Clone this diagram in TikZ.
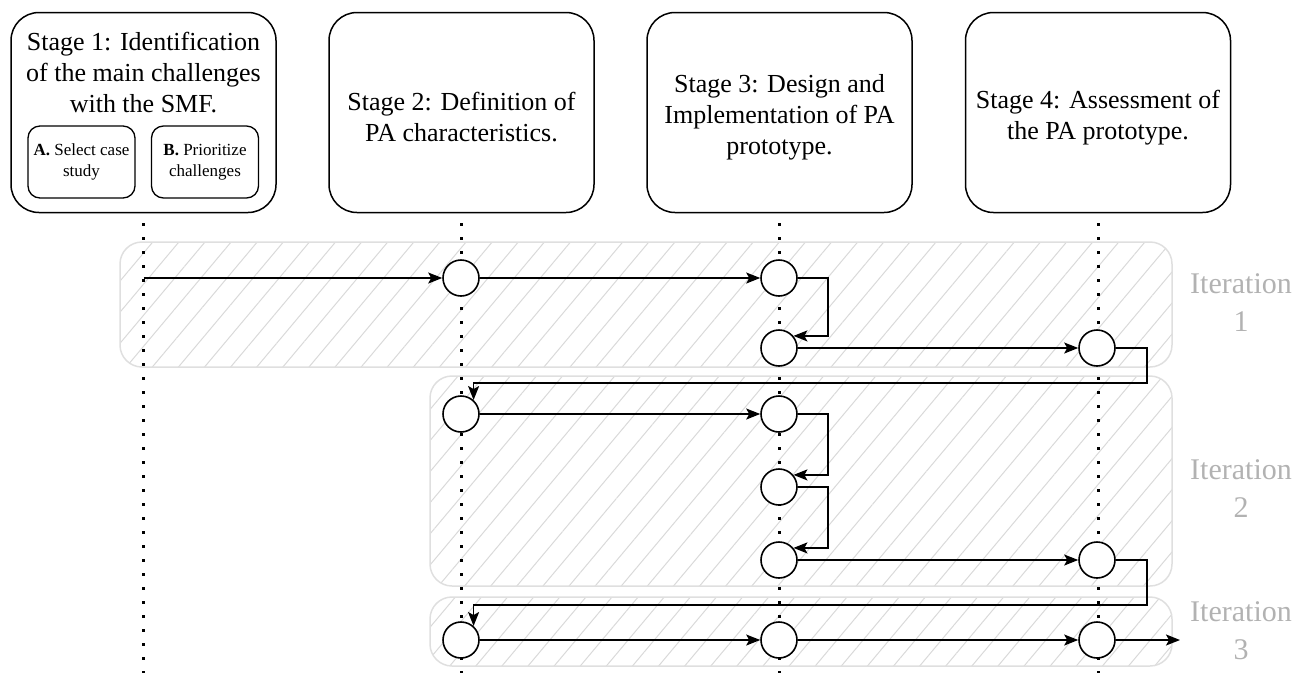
\documentclass[tikz,border=0pt]{standalone}
\usepackage{fontspec}
\setmainfont{Liberation Serif}
\usetikzlibrary{arrows.meta, patterns.meta}

\tikzset{
  stagebox/.style={draw, line width=1.5pt, rounded corners=28pt,
    minimum width=265pt, minimum height=200pt},
  stagetext/.style={align=center, inner sep=0pt, font=\fontsize{26}{31}\selectfont},
  subbox/.style={draw, line width=1.3pt, rounded corners=12pt, align=center,
    minimum width=107pt, minimum height=72pt, font=\fontsize{17}{21}\selectfont},
  iterbox/.style={draw=gray!25, line width=1.5pt, rounded corners=22pt,
    pattern={Lines[angle=50, distance=20pt, line width=1pt]}, pattern color=gray!30},
  iterlabel/.style={text=gray!60, align=center, font=\fontsize{30}{38}\selectfont},
  timeline/.style={line width=3pt, dash pattern=on 3pt off 11pt},
  flow/.style={line width=1.6pt, -{Stealth[length=14pt, width=11pt, inset=3pt]}},
  event/.style={circle, draw, fill=white, line width=1.6pt, minimum size=36pt, inner sep=0pt}
}

\begin{document}
\begin{tikzpicture}[x=1pt, y=-1pt]
    \useasboundingbox (0,0) rectangle (1309,673);

    % Stage boxes along the top
    \node[stagebox] (s1) at (143.5,112.5) {};
    \node[stagebox] (s2) at (461.5,112.5) {};
    \node[stagebox] (s3) at (779.5,112.5) {};
    \node[stagebox] (s4) at (1098,112.5) {};

    % Stage texts
    \node[stagetext] (s1text) at (143.5,73)
        {Stage 1: Identification\\of the main challenges\\with the SMF.};
    \node[subbox] (subA) at (81.5,162) {\textbf{A.} Select case\\study};
    \node[subbox] (subB) at (205,162) {\textbf{B.} Prioritize\\challenges};
    \node[stagetext] (s2text) at ([yshift=-5pt]s2.center) {Stage 2: Definition of\\PA characteristics.};
    \node[stagetext] (s3text) at ([yshift=-5pt]s3.center) {Stage 3: Design and\\Implementation of PA\\prototype.};
    \node[stagetext] (s4text) at ([yshift=-5pt]s4.center) {Stage 4: Assessment of\\the PA prototype.};

    % Hatched iteration bands
    \draw[iterbox] (120,242) rectangle (1172,367);
    \draw[iterbox] (430,376) rectangle (1172,586);
    \draw[iterbox] (430,597) rectangle (1172,666);

    % Iteration labels on the right
    \node[iterlabel] (it1) at (1241,303) {Iteration\\1};
    \node[iterlabel] (it2) at (1241,489) {Iteration\\2};
    \node[iterlabel] (it3) at (1241,631) {Iteration\\3};

    % Dotted time lines below each stage
    \foreach \s in {s1, s2, s3, s4}
        \draw[timeline] (\s.south) ++(0,10) -- (\s.south |- 0,673);

    % Events, iteration 1
    \node[event] (i1s2) at (461,278) {};
    \node[event] (i1s3a) at (779,278) {};
    \node[event] (i1s3b) at (779,348) {};
    \node[event] (i1s4) at (1097,348) {};

    % Events, iteration 2
    \node[event] (i2s2) at (461,414) {};
    \node[event] (i2s3a) at (779,414) {};
    \node[event] (i2s3b) at (779,487) {};
    \node[event] (i2s3c) at (779,560) {};
    \node[event] (i2s4) at (1097,560) {};

    % Events, iteration 3
    \node[event] (i3s2) at (461,640) {};
    \node[event] (i3s3) at (779,640) {};
    \node[event] (i3s4) at (1097,640) {};

    \coordinate (start) at (s1.south |- i1s2);
    \coordinate (finish) at (1180,640);

    % Iteration 1 flow
    \draw[flow] (start) -- (i1s2);
    \draw[flow] (i1s2) -- (i1s3a);
    \draw[flow] (i1s3a.east) -- ++(30,0) |- (i1s3b.40);
    \draw[flow] (i1s3b) -- (i1s4);
    \draw[flow] (i1s4.east) -- ++(31,0) -- ++(0,35) -| (i2s2.48);

    % Iteration 2 flow
    \draw[flow] (i2s2) -- (i2s3a);
    \draw[flow] (i2s3a.east) -- ++(30,0) |- (i2s3b.40);
    \draw[flow] (i2s3b.east) -- ++(30,0) |- (i2s3c.40);
    \draw[flow] (i2s3c) -- (i2s4);
    \draw[flow] (i2s4.east) -- ++(31,0) -- ++(0,45) -| (i3s2.48);

    % Iteration 3 flow
    \draw[flow] (i3s2) -- (i3s3);
    \draw[flow] (i3s3) -- (i3s4);
    \draw[flow] (i3s4) -- (finish);
\end{tikzpicture}
\end{document}
